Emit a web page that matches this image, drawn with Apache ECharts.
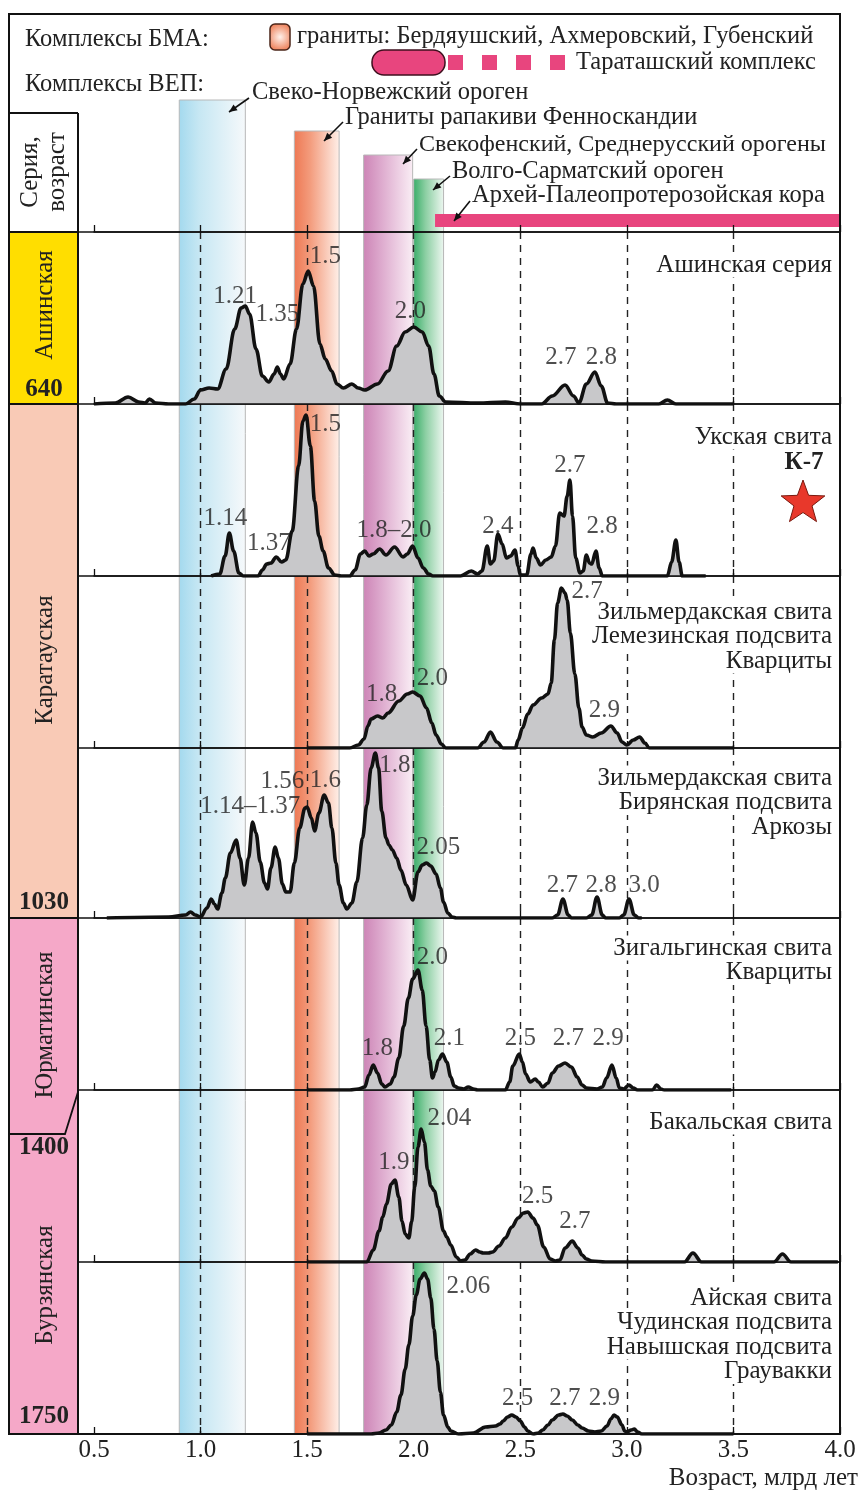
<!DOCTYPE html>
<html>
<head>
<meta charset="utf-8">
<script src="https://cdn.jsdelivr.net/npm/echarts@6/dist/echarts.min.js"></script>
<style>
html, body { margin: 0; padding: 0; background: #fff; }
#chart { width: 861px; height: 1491px; }
</style>
</head>
<body>
<div id="chart"></div>
<script>
// возраст, млрд лет
const ageMin = 0.5, ageMax = 4.0, ageStep = 0.5;

// кривые плотности вероятности: [возраст, относительная вероятность]
const ashaCurve = [[0.5,0],[0.6,1],[0.66,7],[0.71,2],[0.74,1],[0.76,5],[0.79,1],[0.85,0],[0.93,0],[0.97,5],[1.0,14],[1.04,16],[1.08,15],[1.12,35],[1.16,75],[1.19,96],[1.21,98],[1.23,90],[1.26,55],[1.29,28],[1.32,22],[1.345,30],[1.36,37],[1.375,30],[1.39,25],[1.42,40],[1.45,75],[1.48,120],[1.505,133],[1.53,118],[1.56,60],[1.585,45],[1.615,33],[1.64,20],[1.67,16],[1.71,20],[1.74,16],[1.77,14],[1.83,20],[1.88,33],[1.92,58],[1.96,72],[2.0,77],[2.04,72],[2.07,58],[2.095,30],[2.12,8],[2.15,2],[2.3,1],[2.43,2],[2.5,0],[2.6,0],[2.65,8],[2.71,19],[2.75,8],[2.775,1],[2.81,20],[2.85,32],[2.88,18],[2.91,1],[2.95,0],[3.15,0],[3.19,4],[3.23,0],[3.5,0]];
const ukCurve = [[1.05,0],[1.09,2],[1.115,20],[1.135,43],[1.155,25],[1.18,3],[1.2,0],[1.27,0],[1.29,6],[1.31,12],[1.33,13],[1.355,19],[1.38,14],[1.4,16],[1.43,45],[1.46,110],[1.48,155],[1.495,161],[1.515,130],[1.535,75],[1.555,40],[1.575,25],[1.6,8],[1.63,1],[1.66,0],[1.7,0],[1.725,6],[1.75,22],[1.77,25],[1.79,20],[1.81,22],[1.84,27],[1.87,21],[1.91,29],[1.95,19],[1.97,22],[1.995,30],[2.02,18],[2.045,8],[2.07,2],[2.09,0],[2.22,0],[2.27,5],[2.3,2],[2.32,5],[2.345,30],[2.36,12],[2.375,15],[2.395,42],[2.415,32],[2.435,18],[2.455,20],[2.475,26],[2.49,10],[2.5,1],[2.53,1],[2.55,22],[2.56,28],[2.575,18],[2.595,11],[2.62,16],[2.645,19],[2.665,30],[2.685,63],[2.705,60],[2.72,80],[2.733,96],[2.745,60],[2.76,18],[2.78,3],[2.795,5],[2.81,21],[2.825,13],[2.835,12],[2.855,25],[2.87,8],[2.885,0],[3.19,0],[3.21,14],[3.23,36],[3.245,14],[3.26,0],[3.37,0]];
const lemezCurve = [[1.5,0],[1.7,0],[1.74,3],[1.767,9],[1.785,22],[1.8,29],[1.83,32],[1.855,30],[1.88,35],[1.93,47],[1.97,54],[1.995,56],[2.03,52],[2.06,40],[2.085,25],[2.105,13],[2.13,4],[2.15,0],[2.3,0],[2.33,6],[2.36,16],[2.39,6],[2.42,0],[2.477,0],[2.49,8],[2.51,20],[2.535,34],[2.56,43],[2.6,50],[2.63,54],[2.645,65],[2.66,108],[2.675,145],[2.693,160],[2.71,155],[2.72,148],[2.735,115],[2.756,74],[2.775,40],[2.79,21],[2.81,13],[2.84,11],[2.88,15],[2.925,22],[2.955,15],[2.977,6],[3.0,3],[3.03,8],[3.06,11],[3.085,5],[3.105,0],[3.5,0]];
const biryanCurve = [[0.56,0],[0.85,1],[0.93,3],[0.953,6],[0.975,3],[1.0,1],[1.03,10],[1.05,19],[1.065,14],[1.08,9],[1.1,25],[1.116,40],[1.14,65],[1.167,78],[1.185,60],[1.205,33],[1.225,60],[1.244,96],[1.26,85],[1.28,56],[1.3,35],[1.314,29],[1.33,50],[1.35,71],[1.365,60],[1.384,34],[1.4,26],[1.42,26],[1.44,55],[1.465,90],[1.49,110],[1.5,111],[1.52,100],[1.535,87],[1.555,105],[1.58,123],[1.6,115],[1.616,90],[1.635,55],[1.65,33],[1.67,15],[1.686,9],[1.71,15],[1.733,36],[1.76,80],[1.78,113],[1.8,150],[1.82,165],[1.835,150],[1.85,107],[1.87,80],[1.884,73],[1.9,68],[1.92,60],[1.94,48],[1.965,33],[1.995,18],[2.02,46],[2.04,53],[2.06,55],[2.08,52],[2.105,44],[2.125,30],[2.14,16],[2.16,5],[2.18,1],[2.2,0],[2.65,0],[2.675,3],[2.7,19],[2.725,3],[2.74,0],[2.81,0],[2.835,3],[2.86,21],[2.885,3],[2.9,0],[2.965,0],[2.985,3],[3.01,19],[3.035,3],[3.055,0],[3.07,0]];
const zigalCurve = [[1.5,0],[1.7,0],[1.74,1],[1.77,3],[1.79,15],[1.81,25],[1.83,17],[1.85,6],[1.865,3],[1.89,6],[1.907,13],[1.93,32],[1.953,64],[1.975,92],[1.995,111],[2.02,120],[2.04,100],[2.058,64],[2.075,30],[2.088,12],[2.1,18],[2.116,30],[2.135,36],[2.155,28],[2.174,13],[2.19,4],[2.21,2],[2.235,1],[2.256,3],[2.28,1],[2.3,0],[2.43,0],[2.45,8],[2.465,24],[2.495,36],[2.51,28],[2.525,16],[2.547,8],[2.57,11],[2.585,8],[2.605,3],[2.63,7],[2.65,17],[2.68,24],[2.71,27],[2.74,23],[2.767,13],[2.79,5],[2.81,2],[2.86,1],[2.885,3],[2.905,12],[2.93,25],[2.95,12],[2.965,2],[2.985,1],[3.01,5],[3.03,2],[3.05,0],[3.12,0],[3.14,5],[3.16,1],[3.175,0],[3.49,0]];
const bakalCurve = [[1.5,0],[1.78,0],[1.81,12],[1.837,31],[1.855,45],[1.872,58],[1.895,78],[1.912,82],[1.93,65],[1.945,41],[1.96,28],[1.977,24],[1.99,40],[2.005,75],[2.02,115],[2.035,133],[2.05,120],[2.065,92],[2.08,76],[2.097,71],[2.115,55],[2.14,31],[2.155,25],[2.174,17],[2.2,5],[2.22,1],[2.24,2],[2.265,8],[2.29,12],[2.31,10],[2.326,9],[2.35,9],[2.37,10],[2.4,16],[2.43,24],[2.46,35],[2.49,44],[2.515,49],[2.535,50],[2.56,44],[2.58,37],[2.61,15],[2.64,3],[2.665,1],[2.686,2],[2.71,14],[2.744,21],[2.77,14],[2.79,7],[2.81,3],[2.835,1],[2.9,0],[3.27,0],[3.31,9],[3.35,0],[3.69,0],[3.73,8],[3.77,0],[3.99,0]];
const aiCurve = [[1.5,0],[1.8,0],[1.837,1],[1.87,4],[1.895,9],[1.92,22],[1.94,39],[1.96,65],[1.977,89],[1.995,118],[2.012,139],[2.03,155],[2.05,161],[2.065,155],[2.08,136],[2.095,105],[2.11,73],[2.125,42],[2.14,19],[2.16,7],[2.174,3],[2.21,0],[2.28,1],[2.337,7],[2.384,8],[2.405,10],[2.42,13],[2.44,17],[2.46,19],[2.48,17],[2.5,13],[2.52,7],[2.535,3],[2.56,0],[2.585,1],[2.605,4],[2.63,9],[2.65,14],[2.68,19],[2.7,20],[2.72,18],[2.744,14],[2.77,9],[2.79,6],[2.82,3],[2.85,2],[2.88,3],[2.907,8],[2.925,15],[2.94,19],[2.955,17],[2.977,9],[2.99,3],[3.0,2],[3.02,4],[3.035,5],[3.05,2],[3.07,0],[3.5,0]];

// подписи пиков: текст, возраст, уровень
const ashaPeaks = [['1.21',1.162,108],['1.35',1.36,90],['1.5',1.585,148],['2.0',1.984,93],['2.7',2.69,47],['2.8',2.88,47]];
const ukPeaks = [['1.5',1.586,152],['1.14',1.116,58],['1.37',1.321,33],['1.8–2.0',1.907,46],['2.4',2.395,50],['2.7',2.733,111],['2.8',2.884,50]];
const lemezPeaks = [['2.7',2.814,157],['2.0',2.088,70],['1.8',1.849,54],['2.9',2.895,38]];
const biryanPeaks = [['1.8',1.912,153],['1.56',1.384,137],['1.6',1.586,138],['1.14–1.37',1.233,112],['2.05',2.116,71],['2.7',2.698,33],['2.8',2.879,33],['3.0',3.081,33]];
const zigalPeaks = [['2.0',2.088,133],['1.8',1.83,42],['2.1',2.167,52],['2.5',2.5,52],['2.7',2.726,52],['2.9',2.912,52]];
const bakalPeaks = [['2.04',2.167,144],['1.9',1.907,100],['2.5',2.581,66],['2.7',2.756,41]];
const aiPeaks = [['2.06',2.256,148],['2.5',2.488,36],['2.7',2.709,36],['2.9',2.895,36]];

const panelTitles = [
  ['Ашинская серия'],
  ['Укская свита'],
  ['Зильмердакская свита', 'Лемезинская подсвита', 'Кварциты'],
  ['Зильмердакская свита', 'Бирянская подсвита', 'Аркозы'],
  ['Зигальгинская свита', 'Кварциты'],
  ['Бакальская свита'],
  ['Айская свита', 'Чудинская подсвита', 'Навышская подсвита', 'Граувакки']
];

// комплексы ВЕП: полосы по возрасту
const bandNames = ['Свеко-Норвежский ороген', 'Граниты рапакиви Фенноскандии', 'Свекофенский, Среднерусский орогены', 'Волго-Сарматский ороген'];
const bandFrom = [0.90, 1.44, 1.765, 2.0];
const bandTo = [1.21, 1.65, 1.995, 2.14];
const crustName = 'Архей-Палеопротерозойская кора';
const crustFrom = 2.1, crustTo = 4.0;

// серии (левая колонка)
const seriesNames = ['Ашинская', 'Каратауская', 'Юрматинская', 'Бурзянская'];
const seriesAges = ['640', '1030', '1400', '1750'];

// ---------------- layout ----------------
const FONT = "'Liberation Serif', 'DejaVu Serif', serif";
const FS = 25;
const X0 = 94, X1 = 840;
const panelTop = [232, 404, 576, 748, 918, 1090, 1262];
const panelBottom = [404, 576, 748, 918, 1090, 1262, 1434];
const bandTop = [100, 131, 155, 179];
const bandStops = [
  [[0, '#a3d9ee'], [0.3, '#c6e7f3'], [1, '#f6f9fb']],
  [[0, '#ee7853'], [0.35, '#f39b7c'], [1, '#fff0e9']],
  [[0, '#cd84b6'], [0.4, '#dfaed0'], [1, '#faeef5']],
  [[0, '#38ad68'], [0.4, '#8ccfa3'], [1, '#eef7f1']]
];
const curves = [ashaCurve, ukCurve, lemezCurve, biryanCurve, zigalCurve, bakalCurve, aiCurve];
const peaks = [ashaPeaks, ukPeaks, lemezPeaks, biryanPeaks, zigalPeaks, bakalPeaks, aiPeaks];

const chart = echarts.init(document.getElementById('chart'));

const grid = [{ left: X0, width: X1 - X0, top: 14, height: 232 - 14, outerBoundsMode: 'none' }];
const xAxis = [{
  gridIndex: 0, type: 'value', min: ageMin, max: ageMax, interval: ageStep, z: 1,
  axisLine: { lineStyle: { color: '#111', width: 1.5 } },
  axisTick: { inside: true, length: 7, lineStyle: { color: '#111', width: 1.3 } },
  axisLabel: { show: false }, splitLine: { show: false }
}];
const yAxis = [{ gridIndex: 0, type: 'value', min: 0, max: 1, show: false }];
const series = [];

series.push({
  type: 'custom', xAxisIndex: 0, yAxisIndex: 0, z: 0, silent: true,
  data: bandFrom.map((f, i) => [f, bandTo[i]]),
  renderItem: function (params, api) {
    const i = params.dataIndex;
    const a = api.coord([api.value(0), 0])[0];
    const b = api.coord([api.value(1), 0])[0];
    return {
      type: 'rect',
      shape: { x: a, y: bandTop[i], width: b - a, height: 1434 - bandTop[i] },
      style: { fill: new echarts.graphic.LinearGradient(0, 0, 1, 0, bandStops[i].map(s => ({ offset: s[0], color: s[1] }))), stroke: '#b8b8b8', lineWidth: 1 }
    };
  }
});
series.push({
  type: 'custom', xAxisIndex: 0, yAxisIndex: 0, z: 0, silent: true,
  data: [[crustFrom, crustTo]],
  renderItem: function (params, api) {
    const a = api.coord([api.value(0), 0])[0];
    const b = api.coord([api.value(1), 0])[0];
    return { type: 'rect', shape: { x: a, y: 214, width: b - a, height: 13 }, style: { fill: '#e8457e' } };
  }
});

curves.forEach(function (curve, k) {
  const g = k + 1;
  const last = k === curves.length - 1;
  grid.push({ left: X0, width: X1 - X0, top: panelTop[k], height: panelBottom[k] - panelTop[k], outerBoundsMode: 'none' });
  xAxis.push({
    gridIndex: g, type: 'value', min: ageMin, max: ageMax, interval: ageStep, z: 1,
    axisLine: { lineStyle: { color: '#111', width: 1.5 } },
    axisTick: { inside: true, length: 7, lineStyle: { color: '#111', width: 1.3 } },
    axisLabel: {
      show: last, margin: 4, color: '#222', fontFamily: FONT, fontSize: FS,
      showMinLabel: true, showMaxLabel: true, formatter: v => v.toFixed(1)
    },
    splitLine: { show: true, showMinLine: false, showMaxLine: false, lineStyle: { color: '#222', width: 1.4, type: [7, 6] } }
  });
  yAxis.push({ gridIndex: g, type: 'value', min: 0, max: panelBottom[k] - panelTop[k], show: false });
  series.push({
    type: 'line', xAxisIndex: g, yAxisIndex: g, z: 10, silent: true,
    data: curve, smooth: 0.35, smoothMonotone: 'x', symbol: 'none',
    lineStyle: { color: '#111', width: 3.6 },
    areaStyle: { color: '#c8c8ca', opacity: 1 }
  });
  series.push({
    type: 'scatter', xAxisIndex: g, yAxisIndex: g, z: 12, silent: true,
    symbolSize: 1, itemStyle: { color: 'rgba(0,0,0,0)' },
    data: peaks[k].map(p => ({ name: p[0], value: [p[1], p[2]] })),
    label: { show: true, position: 'inside', formatter: '{b}', color: '#222', fontFamily: FONT, fontSize: FS }
  });
});

// ---------------- graphic: рамки, колонка серий, тексты ----------------
const gfx = [];
function txt(s, x, y, opt) {
  opt = opt || {};
  const style = {
    text: s, fill: '#222', font: (opt.bold ? 'bold ' : '') + (opt.size || FS) + 'px ' + FONT,
    textAlign: opt.align || 'left', textVerticalAlign: 'middle', verticalAlign: 'middle'
  };
  if (opt.bg) { style.backgroundColor = '#fff'; style.padding = [0, 2]; }
  gfx.push({ type: 'text', x: x, y: y, rotation: opt.rot || 0, z: 20, style: style });
}
function hline(y, xa, xb, w) {
  gfx.push({ type: 'line', z: 15, shape: { x1: xa, y1: y, x2: xb, y2: y }, style: { stroke: '#111', lineWidth: w || 1.6 } });
}
function arrow(xa, ya, xb, yb) {
  gfx.push({ type: 'line', z: 15, shape: { x1: xa, y1: ya, x2: xb, y2: yb }, style: { stroke: '#111', lineWidth: 1.6 } });
  const ang = Math.atan2(yb - ya, xb - xa), L = 8, W = 3.5;
  const bx = xb - L * Math.cos(ang), by = yb - L * Math.sin(ang);
  gfx.push({ type: 'polygon', z: 15, shape: { points: [[xb, yb], [bx - W * Math.sin(ang), by + W * Math.cos(ang)], [bx + W * Math.sin(ang), by - W * Math.cos(ang)]] }, style: { fill: '#111' } });
}

// левая колонка
gfx.push({ type: 'rect', z: 5, shape: { x: 9, y: 232, width: 69, height: 172 }, style: { fill: '#ffde00' } });
gfx.push({ type: 'rect', z: 5, shape: { x: 9, y: 404, width: 69, height: 514 }, style: { fill: '#f9cab6' } });
gfx.push({ type: 'rect', z: 5, shape: { x: 9, y: 918, width: 69, height: 516 }, style: { fill: '#f5a8c8' } });
gfx.push({ type: 'polyline', z: 15, shape: { points: [[9, 1134], [65, 1134], [78, 1092]] }, style: { stroke: '#111', lineWidth: 1.8, fill: null } });
gfx.push({ type: 'line', z: 15, shape: { x1: 78, y1: 113, x2: 78, y2: 1434 }, style: { stroke: '#111', lineWidth: 2 } });
hline(113, 9, 78, 2);
hline(404, 9, 78, 2);
hline(918, 9, 78, 2);
panelTop.forEach(y => hline(y, 78, X1, 1.6));
hline(232, 9, 78, 2);
// внешняя рамка
gfx.push({ type: 'rect', z: 16, shape: { x: 9, y: 14, width: X1 - 9, height: 1434 - 14 }, style: { fill: null, stroke: '#111', lineWidth: 2 } });

txt('Серия,', 30, 172, { rot: Math.PI / 2, align: 'center', size: 25 });
txt('возраст', 57, 172, { rot: Math.PI / 2, align: 'center', size: 25 });
txt(seriesNames[0], 45, 305, { rot: Math.PI / 2, align: 'center', size: 25 });
txt(seriesNames[1], 45, 660, { rot: Math.PI / 2, align: 'center', size: 25 });
txt(seriesNames[2], 45, 1025, { rot: Math.PI / 2, align: 'center', size: 25 });
txt(seriesNames[3], 45, 1285, { rot: Math.PI / 2, align: 'center', size: 25 });
txt(seriesAges[0], 44, 390, { align: 'center', size: 25, bold: true });
txt(seriesAges[1], 44, 903, { align: 'center', size: 25, bold: true });
txt(seriesAges[2], 44, 1148, { align: 'center', size: 25, bold: true });
txt(seriesAges[3], 44, 1417, { align: 'center', size: 25, bold: true });

// легенда комплексов
txt('Комплексы БМА:', 25, 40, { size: 24.5 });
txt('Комплексы ВЕП:', 25, 85, { size: 24.5 });
gfx.push({ type: 'rect', z: 20, shape: { x: 270, y: 24, width: 20, height: 26, r: 5 }, style: { fill: new echarts.graphic.RadialGradient(0.5, 0.5, 0.6, [{ offset: 0, color: '#fff1ea' }, { offset: 1, color: '#ef8863' }]), stroke: '#4a2418', lineWidth: 1.5 } });
txt('граниты: Бердяушский, Ахмеровский, Губенский', 297, 37, { size: 24.5 });
gfx.push({ type: 'rect', z: 20, shape: { x: 372, y: 50, width: 73, height: 25, r: 12 }, style: { fill: '#e8457e', stroke: '#3e0f1e', lineWidth: 1.5 } });
[448, 482, 516, 550].forEach(x => gfx.push({ type: 'rect', z: 20, shape: { x: x, y: 55, width: 15, height: 15 }, style: { fill: '#e8457e' } }));
txt('Тараташский комплекс', 576, 63, { size: 24.5 });

txt(bandNames[0], 252, 93, { size: 24.5 });
arrow(249, 98, 229, 112);
txt(bandNames[1], 345, 118, { size: 24.5 });
arrow(343, 122, 324, 141);
txt(bandNames[2], 419, 145, { size: 24 });
arrow(417, 149, 403, 164);
txt(bandNames[3], 452, 172, { size: 24.5 });
arrow(450, 176, 433, 190);
txt(crustName, 472, 196, { size: 24.5 });
arrow(470, 201, 454, 221);

// подписи панелей
const titleOffset = [33, 33, 36, 30, 30, 32, 36];
panelTitles.forEach(function (lines, k) {
  lines.forEach((s, j) => txt(s, 834, panelTop[k] + titleOffset[k] + j * 24.5, { align: 'right', bg: true }));
});

// образец К-7
txt('К-7', 804, 463, { align: 'center', bold: true, size: 25 });
(function () {
  const cx = 803, cy = 503, R = 23, r = 9.5, pts = [];
  for (let i = 0; i < 10; i++) {
    const a = -Math.PI / 2 + i * Math.PI / 5, rr = i % 2 ? r : R;
    pts.push([cx + rr * Math.cos(a), cy + rr * Math.sin(a)]);
  }
  gfx.push({ type: 'polygon', z: 20, shape: { points: pts }, style: { fill: '#e8382b', stroke: '#7a1a10', lineWidth: 1 } });
})();

txt('Возраст, млрд лет', 858, 1478, { align: 'right' });

chart.setOption({
  animation: false,
  backgroundColor: '#fff',
  grid: grid,
  xAxis: xAxis,
  yAxis: yAxis,
  series: series,
  graphic: gfx
});
</script>
</body>
</html>
